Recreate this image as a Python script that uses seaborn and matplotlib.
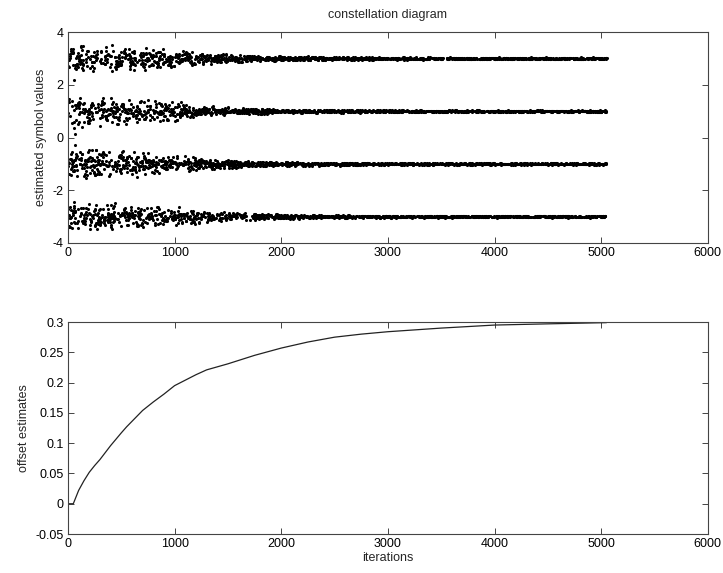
import numpy as np
import pandas as pd
import matplotlib
matplotlib.use("Agg")
import matplotlib.pyplot as plt
import seaborn as sns

# ---- data ----
symbol_levels = [-3, -1, 1, 3]
n_iterations = 5050
# half-width of the scatter cloud around each level, read at checkpoints
spread_iter = [0, 300, 600, 900, 1100, 1300, 1600, 2000, 2500, 3000, 4000, 5050]
spread_half = [0.62, 0.6, 0.52, 0.42, 0.34, 0.24, 0.16, 0.1, 0.07, 0.05, 0.04, 0.04]
# a few early transient points
early_x = [58, 62, 66, 55]
early_y = [2.2, 0.15, -0.3, 0.35]

# offset estimate curve
offset_iter = [0, 50, 100, 150, 200, 250, 300, 400, 500, 550, 600, 700, 800, 900,
               1000, 1100, 1200, 1300, 1500, 1750, 2000, 2250, 2500, 2750, 3000,
               3500, 4000, 4500, 5050]
offset_val = [0, 0, 0.022, 0.038, 0.052, 0.063, 0.073, 0.096, 0.117, 0.127, 0.136,
              0.154, 0.168, 0.181, 0.195, 0.204, 0.213, 0.221, 0.231, 0.245, 0.257,
              0.267, 0.275, 0.280, 0.284, 0.290, 0.295, 0.297, 0.299]

xticks = [0, 1000, 2000, 3000, 4000, 5000, 6000]
top_yticks = [-4, -2, 0, 2, 4]
bot_yticks = [-0.05, 0, 0.05, 0.1, 0.15, 0.2, 0.25, 0.3]

# ---- build the scatter cloud (deterministic hash jitter; the cloud is noise) ----
k = np.arange(1, n_iterations + 1)
def _h(v, a, b):
    t = np.abs(np.sin(v * a + b) * 43758.5453)
    t = np.abs(np.sin(t * 1.7 + v * 0.137) * 24634.6345)
    return np.modf(t)[0]
sym = np.array(symbol_levels)[(_h(k, 12.9898, 0.3) * 4).astype(int) % 4]
jit = _h(k, 78.233, 1.1) + _h(k, 39.346, 2.7) - 1.0
half = np.interp(k, spread_iter, spread_half)
est = sym + jit * half
df_sc = pd.DataFrame({"it": np.concatenate([k, early_x]),
                      "val": np.concatenate([est, early_y])})
df_off = pd.DataFrame({"it": offset_iter, "off": offset_val})

sns.set_theme(style="white")
plt.rcParams["font.family"] = ["Liberation Sans", "DejaVu Sans"]
plt.rcParams["font.size"] = 9

fig = plt.figure(figsize=(7.23, 5.73), dpi=100)
ax1 = fig.add_axes([0.094, 0.576, 0.885, 0.368])
ax2 = fig.add_axes([0.094, 0.068, 0.885, 0.370])

sns.scatterplot(data=df_sc, x="it", y="val", ax=ax1, color="black", s=5,
                linewidth=0, legend=False)
sns.lineplot(data=df_off, x="it", y="off", ax=ax2, color="#222222", lw=0.9)

for ax, yt, lim in [(ax1, top_yticks, (-4, 4)), (ax2, bot_yticks, (-0.05, 0.3))]:
    ax.set_xlim(0, 6000)
    ax.set_ylim(*lim)
    ax.set_xticks(xticks)
    ax.set_yticks(yt)
    ax.set_yticklabels([f"{v:g}" for v in yt])
    ax.tick_params(direction="in", length=4, width=0.7, color="#444444",
                   top=True, right=True, bottom=True, left=True,
                   labelsize=9, labelcolor="black", pad=3)
    for sp in ax.spines.values():
        sp.set_color("#444444")
        sp.set_linewidth(0.8)
    ax.set_facecolor("white")

ax1.set_xlabel("")
ax1.set_ylabel("estimated symbol values", fontsize=9)
ax1.set_title("constellation diagram", fontsize=9, pad=10)
ax2.set_xlabel("iterations", fontsize=9, labelpad=1)
ax2.set_ylabel("offset estimates", fontsize=9)

fig.savefig("out.png", dpi=100, facecolor="white")
